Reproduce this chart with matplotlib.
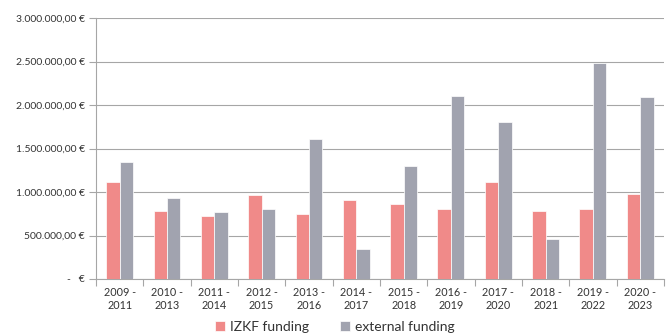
import matplotlib
matplotlib.use("Agg")
import matplotlib.pyplot as plt
import numpy as np
from matplotlib.ticker import FuncFormatter, FixedLocator

periods = ["2009 -\n2011", "2010 -\n2013", "2011 -\n2014", "2012 -\n2015", "2013 -\n2016",
           "2014 -\n2017", "2015 -\n2018", "2016 -\n2019", "2017 -\n2020", "2018 -\n2021",
           "2019 -\n2022", "2020 -\n2023"]
izkf_funding = [1118000, 782000, 728000, 966000, 743000, 912000,
                862000, 805000, 1118000, 782000, 800000, 980000]
external_funding = [1350000, 935000, 774000, 808000, 1610000, 345000,
                    1302000, 2100000, 1805000, 456000, 2480000, 2090000]

plt.rcParams['font.family'] = ['Lato', 'DejaVu Sans']

fig = plt.figure(figsize=(6.7, 3.35), dpi=100)
ax = fig.add_axes([0.1433, 0.1672, 0.8477, 0.7788])

x = np.arange(len(periods))
w = 0.285
c_izkf = "#F08A89"
c_ext = "#A1A3AF"
ax.bar(x - w / 2, izkf_funding, w, color=c_izkf, edgecolor="white", linewidth=0.5,
       label="IZKF funding", zorder=3)
ax.bar(x + w / 2, external_funding, w, color=c_ext, edgecolor="white", linewidth=0.5,
       label="external funding", zorder=3)

ax.set_xlim(-0.5, len(periods) - 0.5)
ax.set_ylim(0, 3000000)
ax.set_yticks(np.arange(0, 3000001, 500000))


def euro(v, pos):
    if v == 0:
        return "-   €"
    s = f"{v:,.2f}".replace(",", "X").replace(".", ",").replace("X", ".")
    return s + " €"


ax.yaxis.set_major_formatter(FuncFormatter(euro))
ax.grid(axis="y", color="#A6A6A6", linewidth=0.8, zorder=0)

ax.set_xticks(x)
ax.set_xticklabels(periods)
ax.xaxis.set_minor_locator(FixedLocator(np.arange(-0.5, len(periods), 1)))
ax.tick_params(axis="x", which="major", length=0, pad=6, labelsize=7.8, colors="#333333")
ax.tick_params(axis="x", which="minor", length=5, color="#A6A6A6", width=0.8)
ax.tick_params(axis="y", length=5, color="#A6A6A6", width=0.8, labelsize=7.5, pad=3)
for lbl in ax.get_yticklabels():
    lbl.set_color("#333333")

for side in ["top", "right"]:
    ax.spines[side].set_visible(False)
for side in ["left", "bottom"]:
    ax.spines[side].set_color("#A6A6A6")
    ax.spines[side].set_linewidth(0.8)

fig.legend(loc="center", bbox_to_anchor=(0.5, 0.025), ncol=2, frameon=False,
           fontsize=10, handlelength=0.7, handleheight=0.7, handletextpad=0.4,
           columnspacing=2.2, labelcolor="#333333")

fig.savefig("out.png", dpi=100)
